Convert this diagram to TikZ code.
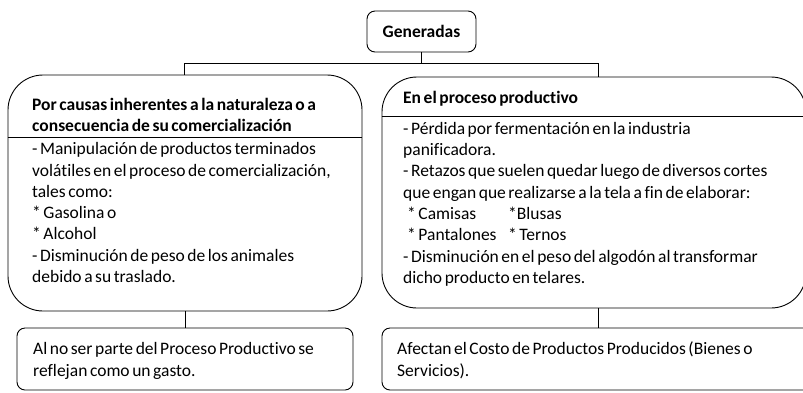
\documentclass[tikz,border=0pt]{standalone}
\usepackage{fontspec}
\setmainfont{Carlito}[WordSpace=0.65, Ligatures=NoCommon]
\begin{document}
\begin{tikzpicture}[x=1pt,y=-1pt,
  box/.style={draw, line width=0.9pt, inner sep=0pt, rectangle},
  bigbox/.style={box, rounded corners=35pt},
  smallbox/.style={box, rounded corners=8pt},
  txt/.style={anchor=north west, inner sep=0pt, align=left, font=\fontsize{17.5}{21.3}\selectfont},
  conn/.style={line width=0.9pt}]
\useasboundingbox (0,0) rectangle (803,392);
\clip (0,0) rectangle (803,392);
% boxes
\node[smallbox, minimum width=109pt, minimum height=41pt, font=\bfseries\fontsize{17.5}{21.3}\selectfont] (gen) at (421.5,31.5) {Generadas};
\node[bigbox, minimum width=354pt, minimum height=236pt] (lbox) at (185,193) {};
\node[bigbox, minimum width=424pt, minimum height=231pt] (rbox) at (594,192.5) {};
\node[smallbox, minimum width=336pt, minimum height=62pt] (lbl) at (185,359) {};
\node[smallbox, minimum width=433pt, minimum height=62pt] (rbl) at (598.5,359) {};
% separators
\draw[conn] (lbox.west |- 0,137) -- (lbox.east |- 0,137);
\draw[conn] (rbox.west |- 0,116) -- (rbox.east |- 0,116);
% connectors
\coordinate (hl) at (184,63);
\coordinate (hr) at (598,63);
\draw[conn] (gen.south) -- (gen.south |- hl);
\draw[conn] (lbox.north -| hl) -- (hl) -- (hr) -- (rbox.north -| hr);
\draw[conn] (lbox.south) -- (lbl.north);
\draw[conn] (rbox.south -| hr) -- (rbl.north -| hr);
% texts
\node[txt, font=\bfseries\fontsize{17.5}{21.3}\selectfont] (lt) at (32,95.1) {\strut Por causas inherentes a la naturaleza o a\\consecuencia de su comercialización};
\node[txt] (lb) at (32,139.6) {\strut - Manipulación de productos terminados\\volátiles en el proceso de comercialización,\\tales como:\\* Gasolina o\\* Alcohol\\- Disminución de peso de los animales\\debido a su traslado.};
\node[txt, font=\bfseries\fontsize{17.5}{21.3}\selectfont] (rt) at (403,88.6) {\strut En el proceso productivo};
\node[txt] (rb) at (403,119.1) {\strut - Pérdida por fermentación en la industria\\panificadora.\\- Retazos que suelen quedar luego de diversos cortes\\que engan que realizarse a la tela a fin de elaborar:\\\hspace*{4pt}\makebox[101pt][l]{* Camisas}*Blusas\\\hspace*{4pt}\makebox[101pt][l]{* Pantalones}* Ternos\\- Disminución en el peso del algodón al transformar\\dicho producto en telares.};
\node[txt] (lbt) at (33,339.6) {\strut Al no ser parte del Proceso Productivo se\\reflejan como un gasto.};
\node[txt] (rbt) at (397,339.6) {\strut Afectan el Costo de Productos Producidos (Bienes o\\Servicios).};
\end{tikzpicture}
\end{document}
